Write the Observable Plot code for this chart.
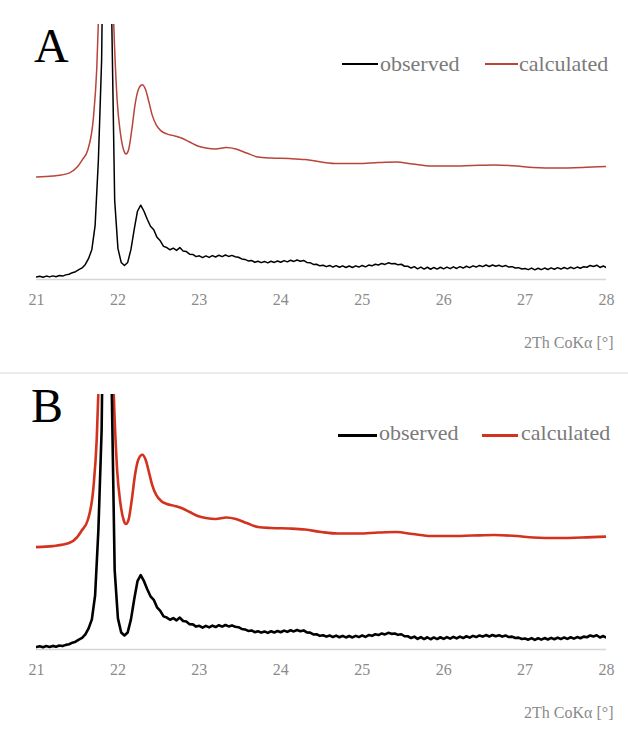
<!DOCTYPE html>
<html>
<head>
<meta charset="utf-8">
<script src="https://cdn.jsdelivr.net/npm/d3@7"></script>
<script src="https://cdn.jsdelivr.net/npm/@observablehq/plot@0.6"></script>
<style>
  body { margin: 0; background: #fff; font-family: "Liberation Serif", "DejaVu Serif", serif; }
  .panel { position: relative; width: 628px; height: 370px; overflow: hidden; }
  #A { border-bottom: 2px solid #ececec; height: 372px; }
  #B { margin-top: -4px; }
  .panel svg text { font-family: "Liberation Serif", serif !important; }
  .letter { position: absolute; font-size: 48px; line-height: 1; color: #000; }
  .legline { position: absolute; }
  .legtext { position: absolute; font-size: 22px; line-height: 1; color: #7a7a7a; white-space: nowrap; }
</style>
</head>
<body>
<div id="A" class="panel">
  <div class="letter" style="left:34px;top:22px;">A</div>
  <div class="legline" style="left:342px;top:63px;width:36px;height:1.5px;background:#000;"></div>
  <div class="legtext" style="left:380px;top:53px;">observed</div>
  <div class="legline" style="left:485px;top:63px;width:33px;height:1.5px;background:#b8443a;"></div>
  <div class="legtext" style="left:519px;top:53px;">calculated</div>
</div>
<div id="B" class="panel">
  <div class="letter" style="left:31px;top:12px;">B</div>
  <div class="legline" style="left:338px;top:64px;width:39px;height:3px;background:#000;"></div>
  <div class="legtext" style="left:379px;top:52px;">observed</div>
  <div class="legline" style="left:482px;top:64px;width:36px;height:3px;background:#d3321e;"></div>
  <div class="legtext" style="left:521px;top:52px;">calculated</div>
</div>
<script>
// x-axis tick labels (2-theta, degrees)
const tickValues = [21, 22, 23, 24, 25, 26, 27, 28];
const axisTitle = "2Th CoKα [°]";

// observed pattern: 2-theta grid from 21.00 to 28.00, step 0.04 (one row per degree)
const obsStart = 21.0;
const obsStep = 0.04;
const observed = [
  25, 32, 22, 34, 26, 36, 28, 40, 34, 46, 52, 68, 78, 98, 115, 150, 210, 300, 540, 1190, 2190, 5000, 6500, 2800, 790,
  310, 170, 140, 170, 300, 500, 680, 740, 680, 600, 530, 495, 420, 385, 330, 318, 296, 312, 290, 318, 284, 278, 252, 250, 228,
  236, 218, 235, 220, 238, 224, 242, 228, 244, 230, 240, 226, 222, 205, 200, 185, 190, 172, 182, 168, 180, 166, 182, 170, 184,
  172, 188, 176, 192, 180, 194, 182, 190, 170, 168, 150, 152, 136, 142, 128, 140, 124, 138, 122, 136, 120, 134, 120, 136, 124,
  140, 126, 144, 136, 152, 144, 160, 150, 166, 156, 160, 146, 152, 132, 132, 114, 128, 106, 124, 104, 122, 102, 120, 104, 122,
  106, 124, 108, 126, 110, 128, 114, 132, 118, 136, 124, 140, 128, 144, 130, 144, 132, 142, 128, 140, 124, 128, 114, 118, 104,
  110, 98, 114, 96, 112, 98, 114, 100, 116, 102, 118, 104, 120, 106, 122, 108, 124, 112, 128, 122, 140, 130, 142, 120, 134,
  118
];

// calculated pattern (smooth)
const calcX = [21.00, 21.20, 21.40, 21.50, 21.56, 21.63, 21.70, 21.74, 21.77, 21.86, 21.94, 21.99, 22.03, 22.07, 22.10,
  22.13, 22.17, 22.21, 22.25, 22.30, 22.34, 22.38, 22.42, 22.47, 22.53, 22.60, 22.70, 22.78, 22.88, 22.98, 23.08, 23.20,
  23.33, 23.45, 23.58, 23.72, 23.88, 24.10, 24.30, 24.50, 24.70, 24.95, 25.20, 25.42, 25.62, 25.85, 26.10, 26.35, 26.62,
  26.90, 27.10, 27.40, 27.70, 28.00];
const calcY = [1020, 1030, 1060, 1120, 1190, 1290, 1620, 2100, 2800, 7000, 2800, 1790, 1460, 1290, 1250,
  1290, 1490, 1740, 1890, 1940, 1890, 1770, 1640, 1540, 1480, 1450, 1430, 1410, 1370, 1330, 1310, 1300,
  1315, 1300, 1260, 1220, 1210, 1205, 1195, 1170, 1155, 1155, 1165, 1170, 1150, 1130, 1130, 1135, 1140,
  1130, 1115, 1110, 1115, 1125];

const obsData = observed.map((y, i) => ({x: obsStart + i * obsStep, y}));
const calcData = calcX.map((x, i) => ({x, y: calcY[i]}));

function panel(id, obsWidth, calcColor, calcWidth) {
  const chart = Plot.plot({
    width: 628,
    height: 370,
    marginTop: 24,
    marginBottom: 91,
    marginLeft: 36,
    marginRight: 22,
    style: {fontFamily: "Liberation Serif, serif", fontSize: "16px", color: "#8a8a8a", background: "transparent", overflow: "visible"},
    x: {domain: [21, 28], axis: null},
    y: {domain: [0, 2540], axis: null},
    marks: [
      Plot.ruleY([0], {stroke: "#d6d6d6", strokeWidth: 1.5}),
      Plot.axisX({ticks: tickValues, tickSize: 0, tickPadding: 14, tickFormat: d => String(d), label: null,
        fontFamily: "Liberation Serif, serif", fontSize: 16, fill: "#8a8a8a"}),
      Plot.line(calcData, {x: "x", y: "y", stroke: calcColor, strokeWidth: calcWidth, curve: "monotone-x", clip: true}),
      Plot.line(obsData, {x: "x", y: "y", stroke: "#000", strokeWidth: obsWidth, clip: true}),
      Plot.text([axisTitle], {text: d => d, frameAnchor: "bottom-right", dx: 7, dy: 63, lineAnchor: "middle",
        textAnchor: "end", fill: "#8a8a8a", fontSize: 16, fontFamily: "Liberation Serif, serif"})
    ]
  });
  chart.style.position = "absolute";
  chart.style.left = "0px";
  chart.style.top = "0px";
  const host = document.getElementById(id);
  host.insertBefore(chart, host.firstChild);
}

panel("A", 1.5, "#b8443a", 1.5);
panel("B", 2.6, "#d3321e", 2.6);
</script>
</body>
</html>
